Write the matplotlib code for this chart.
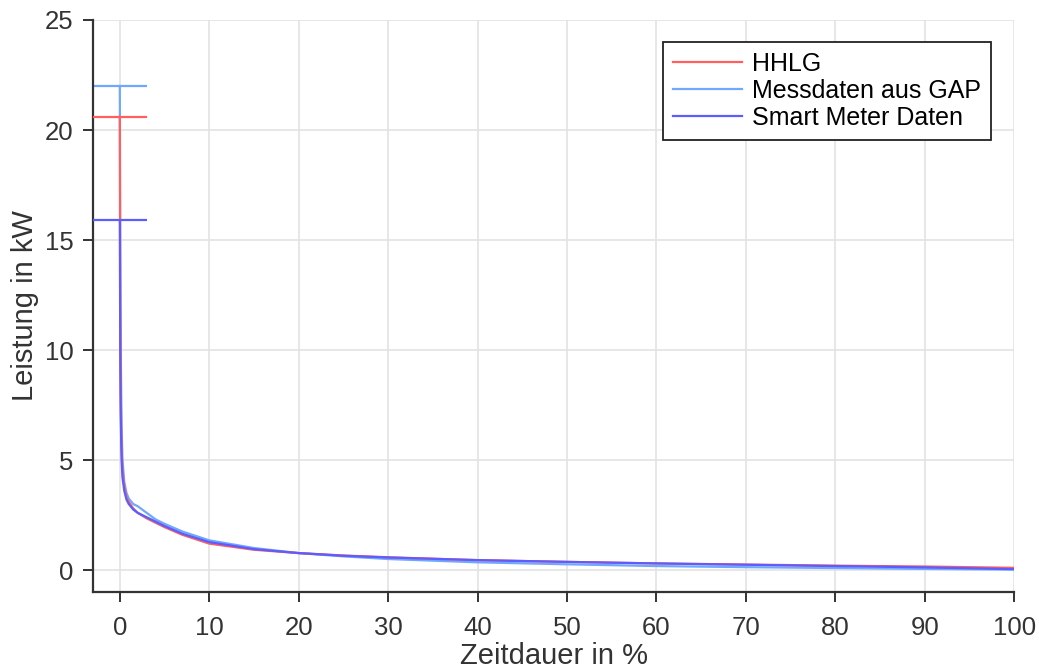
import matplotlib
matplotlib.use("Agg")
import matplotlib.pyplot as plt

plt.rcParams['font.family'] = ['Liberation Sans', 'DejaVu Sans']

# Duration (percent of time) at which each power value is sampled
duration = [0, 0.05, 0.1, 0.2, 0.3, 0.5, 0.75, 1, 1.5, 2, 3, 4, 5, 7, 10,
            15, 20, 25, 30, 40, 50, 60, 70, 80, 90, 100]

# Sorted load duration curves in kW
hhlg = [20.6, 12.0, 8.0, 5.5, 4.5, 3.8, 3.3, 3.1, 2.8, 2.6, 2.35, 2.15, 1.95, 1.6, 1.2,
        0.92, 0.77, 0.66, 0.58, 0.45, 0.37, 0.30, 0.25, 0.20, 0.16, 0.10]
gap = [22.0, 14.0, 10.0, 6.5, 5.0, 4.0, 3.5, 3.25, 3.0, 2.9, 2.6, 2.3, 2.1, 1.75, 1.35,
       1.0, 0.77, 0.62, 0.50, 0.35, 0.26, 0.18, 0.13, 0.09, 0.05, 0.02]
smart = [15.9, 10.0, 7.0, 5.0, 4.2, 3.6, 3.2, 3.0, 2.75, 2.6, 2.4, 2.2, 2.0, 1.65, 1.27,
         0.95, 0.77, 0.65, 0.57, 0.45, 0.37, 0.30, 0.24, 0.18, 0.12, 0.04]

labels = ["HHLG", "Messdaten aus GAP", "Smart Meter Daten"]
colors = ["#ff5f5f", "#70a8ff", "#5c5cff"]
layers = [3, 2, 4]
series = [hhlg, gap, smart]

x_ticks = [0, 10, 20, 30, 40, 50, 60, 70, 80, 90, 100]
y_ticks = [0, 5, 10, 15, 20, 25]

fig = plt.figure(figsize=(10.39, 6.71), dpi=100)
ax = fig.add_axes([0.0895, 0.1177, 0.8865, 0.8525])

for vals, col, lab, z in zip(series, colors, labels, layers):
    ax.plot(duration, vals, color=col, lw=1.6, label=lab, zorder=z)
    # Peak marker
    ax.hlines(vals[0], -3, 3, color=col, lw=1.6, zorder=z)

ax.set_xlim(-3, 100)
ax.set_ylim(-1, 25)
ax.set_xticks(x_ticks)
ax.set_yticks(y_ticks)
ax.grid(True, color="#e3e3e3", lw=1.2)
ax.set_axisbelow(True)

for s in ["top", "right"]:
    ax.spines[s].set_visible(False)
for s in ["left", "bottom"]:
    ax.spines[s].set_color("#333333")
    ax.spines[s].set_linewidth(1.6)

ax.tick_params(axis="both", direction="out", length=7, width=1.4, color="#333333",
               labelsize=18.5, labelcolor="#333333")
ax.tick_params(axis="x", pad=10)
ax.tick_params(axis="y", pad=7)

ax.set_xlabel("Zeitdauer in %", fontsize=21, color="#333333", labelpad=2)
ax.set_ylabel("Leistung in kW", fontsize=21, color="#333333", labelpad=4)

leg = ax.legend(loc="upper right", bbox_to_anchor=(0.975, 0.962), fontsize=18,
                frameon=True, fancybox=False, edgecolor="#222222", framealpha=1,
                handlelength=2.75, handletextpad=0.4, labelspacing=0.12,
                borderpad=0.4, borderaxespad=0)
leg.get_frame().set_linewidth(1.3)

fig.savefig("out.png", dpi=100)
